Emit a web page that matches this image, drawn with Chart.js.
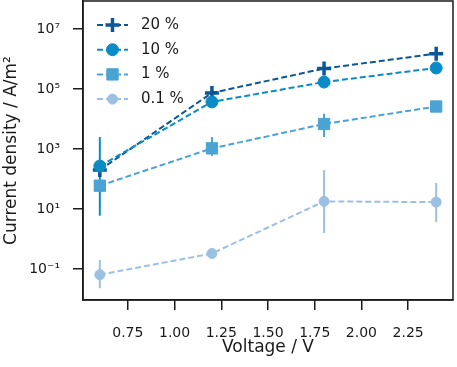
<!DOCTYPE html>
<html>
<head>
<meta charset="utf-8">
<script src="https://cdn.jsdelivr.net/npm/chart.js@4.4.1/dist/chart.umd.min.js"></script>
<style>
  html, body { margin: 0; padding: 0; background: #fff; }
  #wrap { width: 457px; height: 367px; }
</style>
</head>
<body>
<div id="wrap"><canvas id="chart" width="457" height="367"></canvas></div>
<script>
// voltage (V)
const voltages = [0.6, 1.2, 1.8, 2.4];
const seriesLabels = ['20 %', '10 %', '1 %', '0.1 %'];

// current density (A/m^2)
const density20 = [200, 74000, 480000, 1500000];
const density10 = [270, 37000, 170000, 500000];
const density1 = [60, 1050, 6800, 26000];
const density01 = [0.065, 0.33, 18, 17];

// error bar ends (low, high); null = no visible bar
const errLow20 = [130, null, null, null];
const errHigh20 = [260, null, null, null];
const errLow10 = [6, null, null, null];
const errHigh10 = [2500, null, null, null];
const errLow1 = [null, 590, 2500, null];
const errHigh1 = [null, 2500, 15000, null];
const errLow01 = [0.023, null, 1.6, 3.7];
const errHigh01 = [0.2, null, 200, 74];

const xTicks = [0.75, 1.0, 1.25, 1.5, 1.75, 2.0, 2.25];
const yTicks = [1e-1, 1e1, 1e3, 1e5, 1e7];
const yTickLabels = ['10⁻¹', '10¹', '10³', '10⁵', '10⁷'];

const colors = ['#0b5796', '#0b8bc6', '#4aa3d3', '#9cc0e3'];
const FONT = 'DejaVu Sans';
const INK = '#1a1a1a';

const seriesData = [density20, density10, density1, density01];
const seriesLow = [errLow20, errLow10, errLow1, errLow01];
const seriesHigh = [errHigh20, errHigh10, errHigh1, errHigh01];
const markers = [
  { style: 'cross', radius: 7, width: 3.5 },
  { style: 'circle', radius: 6, width: 1 },
  { style: 'rect', radius: 8, width: 1 },
  { style: 'circle', radius: 5, width: 1 }
];

const datasets = seriesLabels.map((label, i) => ({
  label,
  data: voltages.map((v, j) => ({ x: v, y: seriesData[i][j] })),
  showLine: true,
  borderColor: colors[i],
  backgroundColor: colors[i],
  borderWidth: 2,
  borderDash: [6, 3],
  pointStyle: markers[i].style,
  pointRadius: markers[i].radius,
  pointHoverRadius: markers[i].radius,
  pointBorderWidth: markers[i].width,
  pointBackgroundColor: colors[i],
  pointBorderColor: colors[i],
  order: seriesLabels.length - i,
  clip: false
}));

const errorBars = {
  id: 'errorBars',
  beforeDatasetsDraw(chart) {
    const { ctx, scales: { x, y } } = chart;
    ctx.save();
    ctx.lineWidth = 2;
    seriesLabels.forEach((_, i) => {
      ctx.strokeStyle = colors[i];
      voltages.forEach((v, j) => {
        const lo = seriesLow[i][j], hi = seriesHigh[i][j];
        if (lo == null || hi == null) return;
        const px = x.getPixelForValue(v);
        ctx.beginPath();
        ctx.moveTo(px, y.getPixelForValue(lo));
        ctx.lineTo(px, y.getPixelForValue(hi));
        ctx.stroke();
      });
    });
    ctx.restore();
  }
};

const frameAndLegend = {
  id: 'frameAndLegend',
  afterDraw(chart) {
    const { ctx, chartArea: a } = chart;
    ctx.save();
    ctx.strokeStyle = INK;
    ctx.lineWidth = 1.5;
    ctx.strokeRect(a.left, a.top, a.right - a.left, a.bottom - a.top);

    // legend, upper left inside the axes
    const x0 = a.left + 14, x1 = a.left + 45, tx = a.left + 58;
    seriesLabels.forEach((label, i) => {
      const yy = a.top + 24 + i * 24.7;
      ctx.strokeStyle = colors[i];
      ctx.fillStyle = colors[i];
      ctx.lineWidth = 2;
      ctx.setLineDash([6, 3]);
      ctx.beginPath();
      ctx.moveTo(x0, yy);
      ctx.lineTo(x1, yy);
      ctx.stroke();
      ctx.setLineDash([]);
      ctx.lineWidth = markers[i].width;
      Chart.helpers.drawPoint(ctx, {
        pointStyle: markers[i].style, radius: markers[i].radius,
        rotation: 0, borderWidth: markers[i].width
      }, (x0 + x1) / 2, yy);
      ctx.fillStyle = INK;
      ctx.font = '15px "' + FONT + '"';
      ctx.textBaseline = 'middle';
      ctx.textAlign = 'left';
      ctx.fillText(label, tx, yy);
    });
    ctx.restore();
  }
};

const ctx = document.getElementById('chart').getContext('2d');
new Chart(ctx, {
  type: 'scatter',
  data: { datasets },
  options: {
    responsive: false,
    animation: false,
    devicePixelRatio: 1,
    layout: { autoPadding: false, padding: { left: 0, top: 1, right: 4, bottom: 0 } },
    plugins: { legend: { display: false }, tooltip: { enabled: false } },
    scales: {
      x: {
        type: 'linear',
        min: 0.51,
        max: 2.49,
        afterBuildTicks: s => { s.ticks = xTicks.map(v => ({ value: v })); },
        afterFit: s => { s.height = 67; s.paddingLeft = 0; s.paddingRight = 0; },
        ticks: {
          color: INK,
          font: { family: FONT, size: 14 },
          padding: 15,
          maxRotation: 0,
          callback: v => v.toFixed(2)
        },
        grid: { display: true, drawOnChartArea: false, drawTicks: true, tickLength: 10, color: INK, lineWidth: 1.5 },
        border: { display: true, color: INK, width: 1.5 },
        title: { display: true, text: 'Voltage / V', color: INK, font: { family: FONT, size: 17 }, padding: { top: 0, bottom: 9 } }
      },
      y: {
        type: 'logarithmic',
        min: Math.pow(10, -2.03),
        max: Math.pow(10, 7.93),
        afterBuildTicks: s => { s.ticks = yTicks.map(v => ({ value: v })); },
        afterFit: s => { s.width = 83; s.paddingTop = 0; s.paddingBottom = 0; },
        ticks: {
          color: INK,
          font: { family: FONT, size: 14 },
          padding: 13,
          callback: v => {
            const k = yTicks.findIndex(t => Math.abs(Math.log10(t) - Math.log10(v)) < 1e-6);
            return k >= 0 ? yTickLabels[k] : '';
          }
        },
        grid: { display: true, drawOnChartArea: false, drawTicks: true, tickLength: 10, color: INK, lineWidth: 1.5 },
        border: { display: true, color: INK, width: 1.5 },
        title: { display: true, text: 'Current density / A/m²', color: INK, font: { family: FONT, size: 17 }, padding: { top: 1, bottom: 4 } }
      }
    }
  },
  plugins: [errorBars, frameAndLegend]
});
</script>
</body>
</html>
